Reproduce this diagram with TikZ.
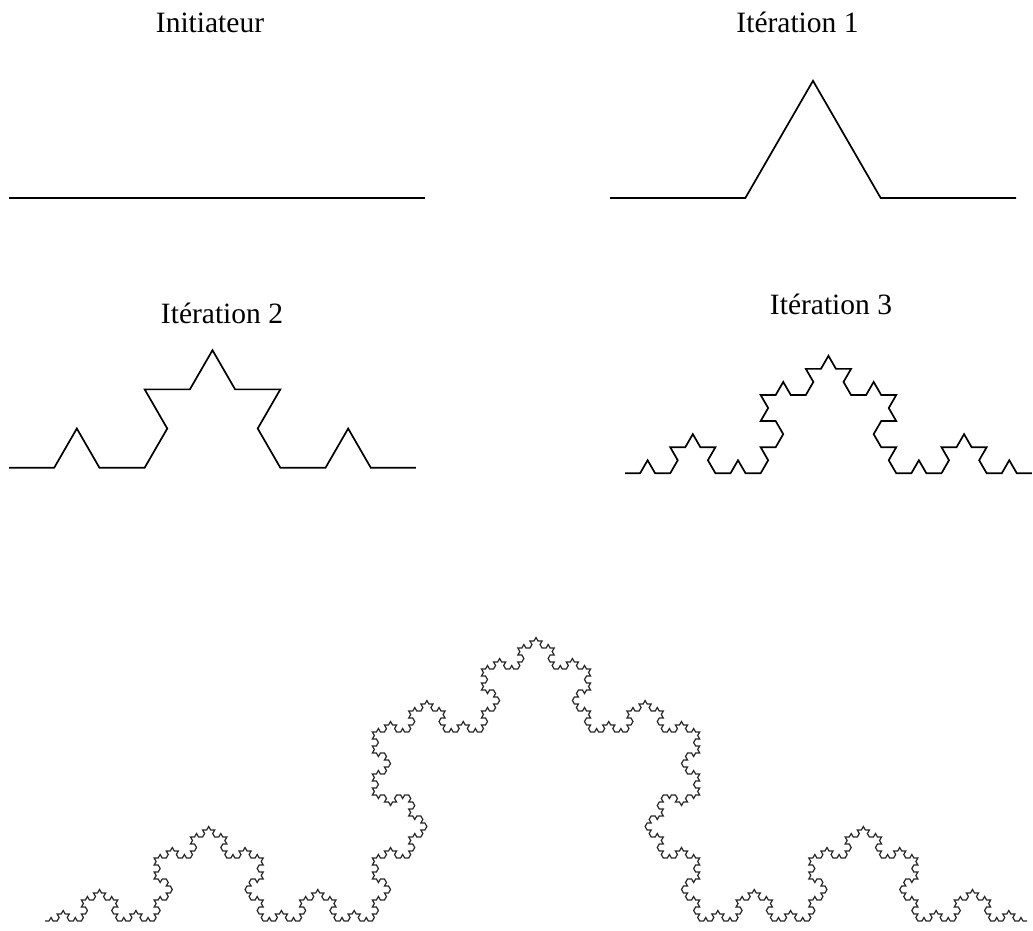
\documentclass[tikz,border=0pt]{standalone}
\usepackage{fontspec}
\setmainfont{Liberation Serif}
\usetikzlibrary{lindenmayersystems}
\pgfdeclarelindenmayersystem{Koch up}{\rule{F -> F+F--F+F}}
\begin{document}
\begin{tikzpicture}[x=1pt,y=1pt,
  lbl/.style={font=\fontsize{29.5}{35}\selectfont, anchor=base, inner sep=0pt},
  koch/.style={line width=1.7pt, line join=miter, black},
  bigkoch/.style={line width=1.2pt, line join=miter, black!85}]
\useasboundingbox (0,0) rectangle (1033,930);
% titles
\node[lbl] (t0) at (210,897) {Initiateur};
\node[lbl] (t1) at (797.5,897) {Itération 1};
\node[lbl] (t2) at (222,606) {Itération 2};
\node[lbl] (t3) at (831,615) {Itération 3};
% initiator
\coordinate (a0) at (9,732);
\coordinate (b0) at (425,732);
\draw[koch] (a0) -- (b0);
% iteration 1
\coordinate (a1) at (610,732);
\begin{scope}[shift={(a1)}]
\draw[koch, l-system={Koch up, axiom=F, order=1, angle=60, step=135.33pt}] lindenmayer system;
\end{scope}
% iteration 2
\coordinate (a2) at (9,462.3);
\begin{scope}[shift={(a2)}]
\draw[koch, l-system={Koch up, axiom=F, order=2, angle=60, step=45.22pt}] lindenmayer system;
\end{scope}
% iteration 3
\coordinate (a3) at (625,456.7);
\begin{scope}[shift={(a3)}]
\draw[koch, l-system={Koch up, axiom=F, order=3, angle=60, step=15.07pt}] lindenmayer system;
\end{scope}
% large iteration
\coordinate (a5) at (45,9);
\begin{scope}[shift={(a5)}]
\draw[bigkoch, l-system={Koch up, axiom=F, order=5, angle=60, step=4.0412pt}] lindenmayer system;
\end{scope}
\end{tikzpicture}
\end{document}
